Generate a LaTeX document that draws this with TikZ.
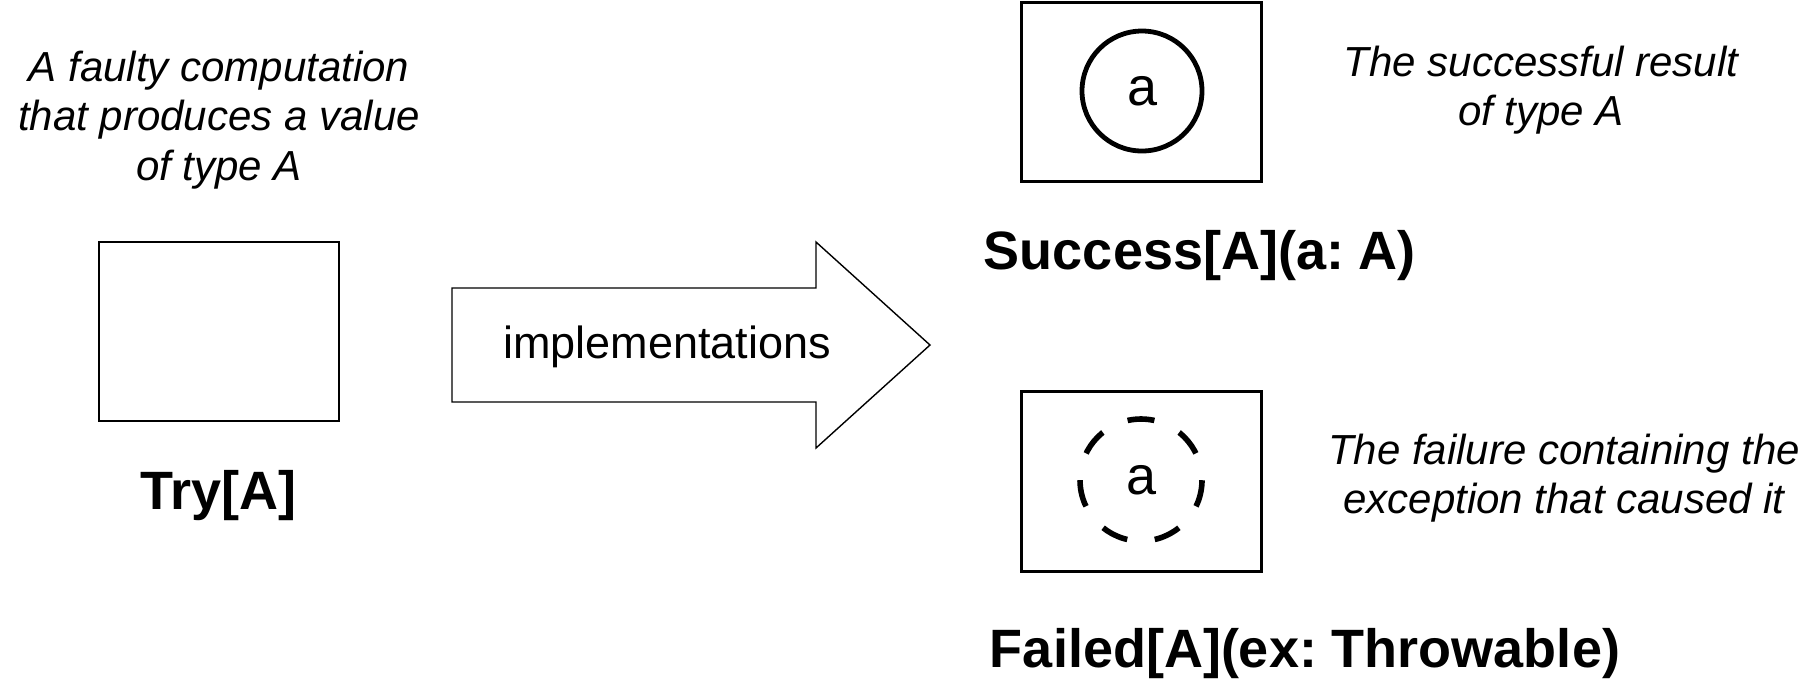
\documentclass[tikz,border=0pt]{standalone}
\usepackage{fontspec}
\setmainfont{Liberation Sans}
\usepackage{tikz}
\frenchspacing
\newcommand{\descfont}{\itshape\fontsize{21}{24.75}\selectfont}
\newcommand{\typefont}{\bfseries\fontsize{27}{32}\selectfont}
\tikzset{
	box/.style = {draw, line width=1.3pt, minimum width=120pt, minimum height=89.5pt},
	valcirc/.style = {draw, circle, line width=2.4pt, minimum size=60pt,
		font=\fontsize{27}{32}\selectfont},
	desc/.style = {align=center, font=\descfont},
	typename/.style = {font=\typefont},
}

\begin{document}
\begin{tikzpicture}[x=0.5pt, y=-0.5pt]
	\useasboundingbox (0,0) rectangle (1803,693);
	\node [box] (try) at (219,331.5) {};
	\node [typename] (trylbl) at (218.5,496) 
		{Try[A]};
	\node [desc] (trytxt) at (219,120) 
		{A faulty computation\\ that produces a value\\ of type A};
	\draw [line width=0.7pt] 
		(452,288) -- (816,288) -- (816,242) -- (930,345) 
		-- (816,448) -- (816,402) -- (452,402) -- cycle;
	\node [font=\fontsize{22.5}{27}\selectfont] (impl) at (667,347) 
		{implementations};
	\node [box] (succ) at (1141.5,91.7) {};
	\node [valcirc] (succval) at (1142,91) {a};
	\node [typename] (succlbl) at (1200,256) 
		{Success[A](a: A)};
	\node [desc] (succtxt) at (1541,90) 
		{The successful result\\ of type A};
	\node [box, minimum height=90pt] (fail) at (1141.5,481.6) {};
	\node [valcirc, minimum size=61pt, line width=2.8pt, 
		dash pattern=on 13.5pt off 13.87pt, dash phase=13.58pt] 
		(failval) at (1141,480) {a};
	\node [typename] (faillbl) at (1305,654) 
		{Failed[A](ex: Throwable)};
	\node [desc] (failtxt) at (1564,478) 
		{The failure containing the\\ exception that caused it};
\end{tikzpicture}
\end{document}
